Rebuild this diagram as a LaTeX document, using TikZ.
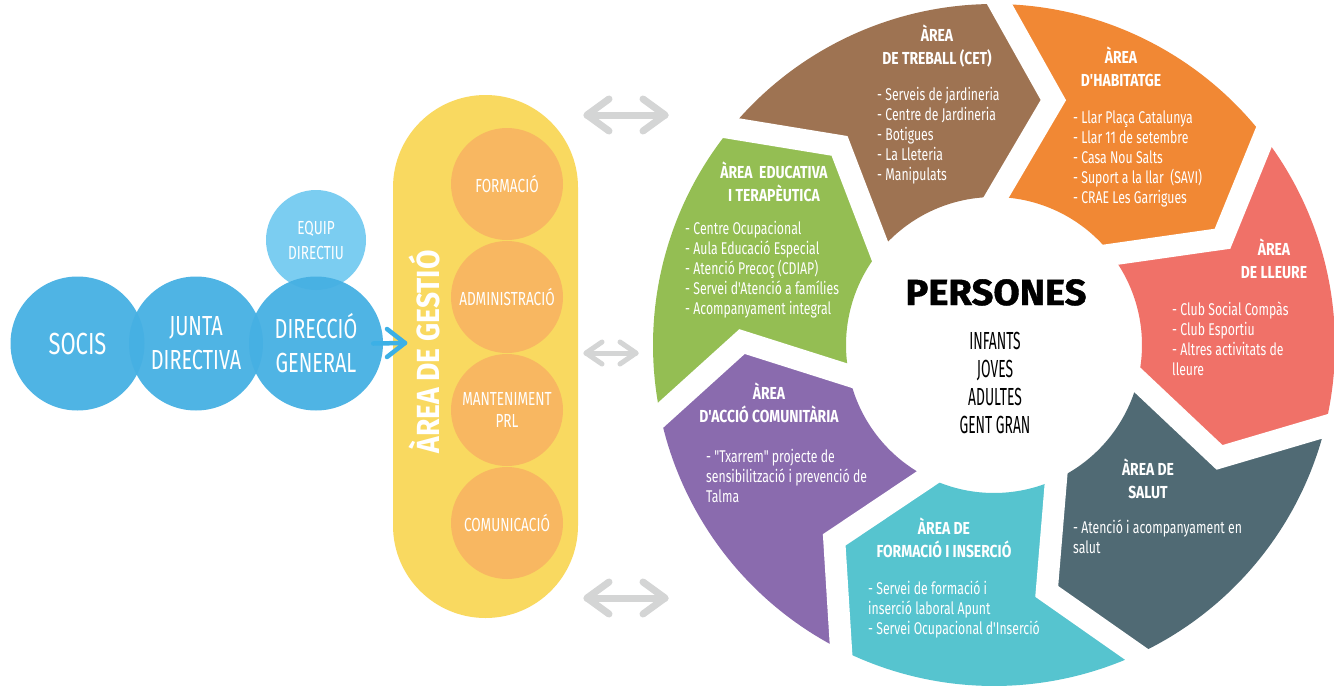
\documentclass[tikz,border=0pt]{standalone}
\usepackage{fontspec}
\setmainfont{Fira Sans}
\newfontfamily\fcond{Fira Sans}[FakeStretch=0.72]
\newfontfamily\ftitle{Fira Sans}[FakeStretch=0.8]
\newfontfamily\fnarrow{Fira Sans}[FakeStretch=0.56]
\newfontfamily\fgest{Fira Sans}[FakeStretch=0.88]
\newfontfamily\fpers{Fira Sans}[FakeStretch=1.05,BoldFeatures={FakeBold=1.2}]
\usetikzlibrary{calc}
\definecolor{cBrown}{RGB}{158,115,82}
\definecolor{cOrange}{RGB}{241,136,52}
\definecolor{cRed}{RGB}{240,113,104}
\definecolor{cSlate}{RGB}{80,106,116}
\definecolor{cCyan}{RGB}{86,196,207}
\definecolor{cPurple}{RGB}{138,107,174}
\definecolor{cGreen}{RGB}{148,190,83}
\definecolor{cBlue}{RGB}{70,176,227}
\definecolor{cBlueLight}{RGB}{109,200,240}
\definecolor{cBlueArrow}{RGB}{60,176,230}
\definecolor{cYellow}{RGB}{249,217,96}
\definecolor{cPeach}{RGB}{248,183,97}
\definecolor{cGrey}{RGB}{212,213,213}
% multi-line nodes: anchor 'base' sits on the LAST line's baseline
\tikzset{
  ttl/.style={anchor=base, align=center, inner sep=0pt, text=white, font=\ftitle\bfseries\fontsize{17.4}{23}\selectfont},
  itm/.style={anchor=base west, align=left, inner sep=0pt, text=white, font=\fcond\fontsize{17}{20}\selectfont},
  bc/.style={circle, inner sep=0pt, minimum size=134pt, fill=cBlue, fill opacity=0.95, text opacity=1, text=white, align=center},
  oc/.style={circle, inner sep=0pt, minimum size=112pt, fill=cPeach, text=white, align=center, font=\fcond\fontsize{18.9}{22}\selectfont},
  pill/.style={rectangle, inner sep=0pt, minimum width=185pt, minimum height=523pt, rounded corners=92.5pt, fill=cYellow},
  garrow/.style={draw=cGrey, line width=7pt, line cap=round, line join=round},
  barrow/.style={draw=cBlueArrow, line width=4.5pt, line cap=round, line join=round},
  gapline/.style={draw=white, line width=22pt, line join=miter}
}
\begin{document}
\begin{tikzpicture}[x=1pt,y=-1pt]
\fill[white] (0,0) rectangle (1334,691);
\useasboundingbox (0,0) rectangle (1334,691);

% ---------- ring ----------
\begin{scope}[shift={(994,345)}, yscale=-1]
  \def\Ro{341}\def\Ri{148}\def\Rm{252}\def\dv{12.7}
  \foreach \gh/\gl/\col in {191.92/140.5/cGreen, 140.5/89.07/cBrown, 89.07/37.64/cOrange,
      37.64/-13.79/cRed, -13.79/-65.22/cSlate, -65.22/-116.65/cCyan, 243.35/191.92/cPurple}{
    \fill[\col] (\gh:\Ro) -- (\gh-\dv:\Rm) -- (\gh:\Ri)
      arc[start angle=\gh, end angle=\gl, radius=\Ri]
      -- (\gl-\dv:\Rm) -- (\gl:\Ro)
      arc[start angle=\gl, end angle=\gh, radius=\Ro] -- cycle;
  }
  \foreach \g in {191.92, 140.5, 89.07, 37.64, -13.79, -65.22, -116.65}{
    \draw[gapline] ($(\g-\dv:\Rm)!1.35!(\g:\Ro)$) -- (\g-\dv:\Rm) -- ($(\g-\dv:\Rm)!1.5!(\g:\Ri)$);
  }
\end{scope}

% ---------- ring texts (positions = last baseline) ----------
\node[ttl] (tBrown) at (937,64) {ÀREA\\DE TREBALL (CET)};
\node[itm] (iBrown) at (877,180) {- Serveis de jardineria\\- Centre de Jardineria\\- Botigues\\- La Lleteria\\- Manipulats};
\node[ttl] (tOrange) at (1121,86) {ÀREA\\D'HABITATGE};
\node[itm] (iOrange) at (1073,203) {- Llar Plaça Catalunya\\- Llar 11 de setembre\\- Casa Nou Salts\\- Suport a la llar~ (SAVI)\\- CRAE Les Garrigues};
\node[ttl] (tRed) at (1274,278) {ÀREA\\DE LLEURE};
\node[itm] (iRed) at (1172,375) {- Club Social Compàs\\- Club Esportiu\\- Altres activitats de\\lleure};
\node[ttl] (tSlate) at (1148,498) {ÀREA DE\\SALUT};
\node[itm] (iSlate) at (1073,553) {- Atenció i acompanyament en\\salut};
\node[ttl] (tCyan) at (944,557) {ÀREA DE\\FORMACIÓ I INSERCIÓ};
\node[itm] (iCyan) at (868,634) {- Servei de formació i\\inserció laboral Apunt\\- Servei Ocupacional d'Inserció};
\node[ttl] (tPurple) at (769,422) {ÀREA\\D'ACCIÓ COMUNITÀRIA};
\node[itm] (iPurple) at (706,502) {- "Txarrem" projecte de\\sensibilització i prevenció de\\Talma};
\node[ttl] (tGreen) at (774,201) {ÀREA~ EDUCATIVA\\I TERAPÈUTICA};
\node[itm] (iGreen) at (685,314) {- Centre Ocupacional\\- Aula Educació Especial\\- Atenció Precoç (CDIAP)\\- Servei d'Atenció a famílies\\- Acompanyament integral};

\node[anchor=base, inner sep=0pt, font=\fpers\bfseries\fontsize{36.3}{40}\selectfont] (pers) at (996,305) {PERSONES};
\node[anchor=base, align=center, inner sep=0pt, font=\fnarrow\fontsize{24.7}{27.7}\selectfont] (grp) at (995,433) {INFANTS\\JOVES\\ADULTES\\GENT GRAN};

% ---------- left circles ----------
\node[bc, font=\fcond\fontsize{30.5}{34}\selectfont] (socis) at (77.5,343.5) {SOCIS};
\node[bc, font=\fcond\fontsize{27.6}{34}\selectfont] (junta) at (196,343.5) {JUNTA\\DIRECTIVA};
\node[bc, minimum size=100pt, fill=cBlueLight, fill opacity=0.9, font=\fcond\fontsize{18.9}{25}\selectfont] (equip) at (316,240) {EQUIP\\DIRECTIU};
\node[bc, font=\fcond\fontsize{27.6}{34}\selectfont] (dg) at (316,343.5) {DIRECCIÓ\\GENERAL};

% ---------- management pill ----------
\node[pill] (gest) at (485.5,356.5) {};
\node[rotate=90, inner sep=0pt, text=white, font=\fgest\bfseries\fontsize{32}{36}\selectfont] (gtxt) at (424,352) {ÀREA DE GESTIÓ};
\node[oc] (form) at (507,184) {FORMACIÓ};
\node[oc] (adm) at (507,297) {ADMINISTRACIÓ};
\node[oc] (mant) at (507,410) {MANTENIMENT\\PRL};
\node[oc] (com) at (507,523) {COMUNICACIÓ};

% ---------- blue arrow ----------
\coordinate (btip) at (405,343);
\draw[barrow] ([xshift=-10pt]dg.east) -- (btip);
\draw[barrow] ([shift={(-18,-14)}]btip) -- (btip) -- ([shift={(-18,14)}]btip);

% ---------- grey double arrows ----------
\coordinate (g1a) at (587,115); \coordinate (g1b) at (665,115);
\draw[garrow] (g1a) -- (g1b);
\draw[garrow] ([shift={(22,-16)}]g1a) -- (g1a) -- ([shift={(22,16)}]g1a);
\draw[garrow] ([shift={(-22,-16)}]g1b) -- (g1b) -- ([shift={(-22,16)}]g1b);

\coordinate (g2a) at (586,353); \coordinate (g2b) at (636,353);
\draw[garrow, line width=5pt] (g2a) -- (g2b);
\draw[garrow, line width=5pt] ([shift={(16,-11)}]g2a) -- (g2a) -- ([shift={(16,11)}]g2a);
\draw[garrow, line width=5pt] ([shift={(-16,-11)}]g2b) -- (g2b) -- ([shift={(-16,11)}]g2b);

\coordinate (g3a) at (587,598); \coordinate (g3b) at (665,598);
\draw[garrow] (g3a) -- (g3b);
\draw[garrow] ([shift={(22,-16)}]g3a) -- (g3a) -- ([shift={(22,16)}]g3a);
\draw[garrow] ([shift={(-22,-16)}]g3b) -- (g3b) -- ([shift={(-22,16)}]g3b);
\end{tikzpicture}
\end{document}
